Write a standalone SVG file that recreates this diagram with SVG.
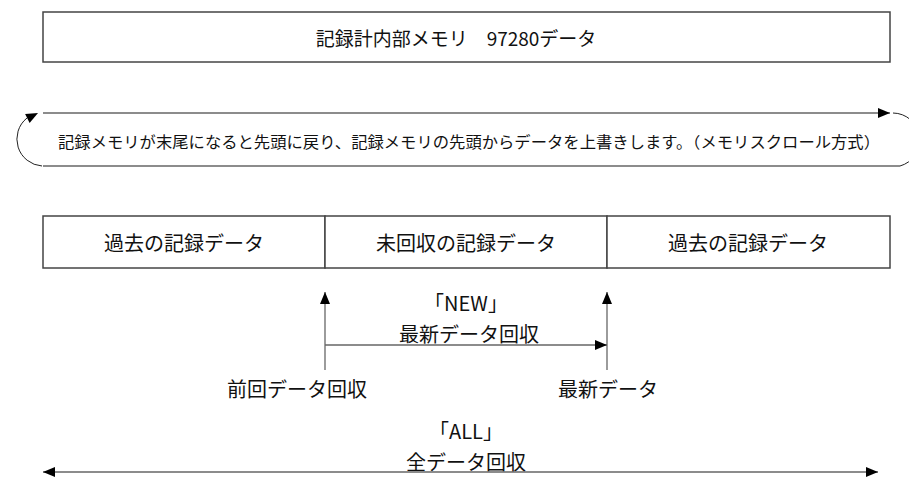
<svg xmlns="http://www.w3.org/2000/svg" width="909" height="477" viewBox="0 0 909 477">
<style>
text{font-family:"Noto Sans CJK JP","Noto Sans",sans-serif;fill:#111;text-anchor:middle;dominant-baseline:central}
.h{font-size:19px}
.t{font-size:20px}
.s{font-size:15.5px}
.box{fill:#fff;stroke:#444;stroke-width:1.5}
.ln{fill:none;stroke:#666;stroke-width:1.3}
.arc{fill:none;stroke:#222;stroke-width:1}
</style>
<defs>
<marker id="ah" viewBox="0 0 12 10" refX="12" refY="5" markerWidth="12" markerHeight="10" markerUnits="userSpaceOnUse" orient="auto-start-reverse">
<path d="M0,0L12,5L0,10z" fill="#000"/>
</marker>
</defs>
<g id="memory">
<rect class="box" x="43" y="12" width="847" height="50"/>
<text class="h" x="456" y="37">記録計内部メモリ　97280データ</text>
</g>
<g id="scroll">
<text class="s" x="469" y="141" textLength="822" lengthAdjust="spacingAndGlyphs">記録メモリが末尾になると先頭に戻り、記録メモリの先頭からデータを上書きします。（メモリスクロール方式）</text>
</g>
<g id="past1">
<rect class="box" x="43" y="216" width="282" height="52"/>
<text class="t" x="184" y="242">過去の記録データ</text>
</g>
<g id="uncollected">
<rect class="box" x="325" y="216" width="282" height="52"/>
<text class="t" x="466" y="242">未回収の記録データ</text>
</g>
<g id="past2">
<rect class="box" x="607" y="216" width="283" height="52"/>
<text class="t" x="748" y="242">過去の記録データ</text>
</g>
<g id="labels">
<text class="t" x="466" y="302">「NEW」</text>
<text class="t" x="469" y="333">最新データ回収</text>
<text class="t" x="297" y="388">前回データ回収</text>
<text class="t" x="608" y="388">最新データ</text>
<text class="t" x="466" y="430">「ALL」</text>
<text class="t" x="466" y="461">全データ回収</text>
</g>
<g id="connectors">
<line class="ln" x1="43" y1="113" x2="890" y2="113" marker-end="url(#ah)"/>
<line class="ln" x1="43" y1="166" x2="900" y2="166"/>
<path class="arc" d="M42,166 A27,27 0 0 1 27,118"/>
<path d="M38,113 L25.1,113.9 L29.6,122.9z" fill="#000"/>
<path class="arc" d="M893,113 A27,27 0 0 1 900,166"/>
<line class="ln" x1="325" y1="370" x2="325" y2="292" marker-end="url(#ah)"/>
<line class="ln" x1="607" y1="370" x2="607" y2="292" marker-end="url(#ah)"/>
<line class="ln" x1="325" y1="345" x2="607" y2="345" marker-end="url(#ah)"/>
<line class="ln" x1="43" y1="472" x2="878" y2="472" marker-start="url(#ah)" marker-end="url(#ah)"/>
</g>
</svg>
